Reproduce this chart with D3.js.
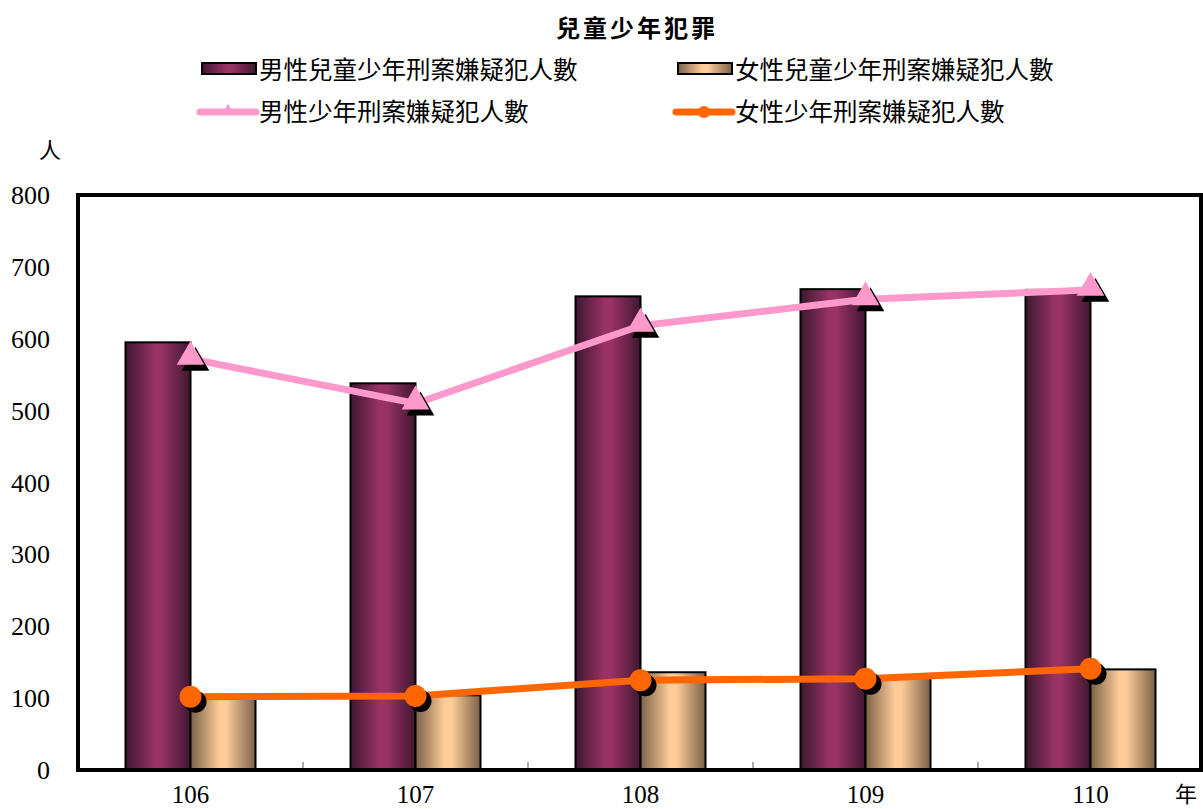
<!DOCTYPE html>
<html><head><meta charset="utf-8">
<script src="https://cdn.jsdelivr.net/npm/d3@7"></script>
<style>body{margin:0;background:#fff}svg{display:block}</style>
</head><body>
<svg id="c" width="1203" height="809"></svg>
<script>
const categories = ["106","107","108","109","110"];
const maleBars = [595, 538, 659, 669, 668];
const femaleBars = [99, 104, 136, 128, 140];
const maleLine = [572, 510, 618, 655, 668];
const femaleLine = [102, 103, 125, 127, 141];
const yTicks = [0,100,200,300,400,500,600,700,800];
const seriesNames = ["男性兒童少年刑案嫌疑犯人數","女性兒童少年刑案嫌疑犯人數","男性少年刑案嫌疑犯人數","女性少年刑案嫌疑犯人數"];

const svg = d3.select("#c");
const m = {l:78, r:1201, t:195, b:770};
const x = d3.scaleBand().domain(categories).range([m.l, m.r+2]);
const y = d3.scaleLinear().domain([0,800]).range([m.b, m.t]);
const serif = "'Liberation Serif','Times New Roman',serif";
const cjk = "'Noto Sans CJK TC','Noto Sans CJK SC',sans-serif";

const defs = svg.append("defs");
function grad(id, edge, mid){
  const g = defs.append("linearGradient").attr("id",id).attr("x1","0").attr("x2","1").attr("y1","0").attr("y2","0");
  g.append("stop").attr("offset","0%").attr("stop-color",edge);
  g.append("stop").attr("offset","45%").attr("stop-color",mid);
  g.append("stop").attr("offset","55%").attr("stop-color",mid);
  g.append("stop").attr("offset","100%").attr("stop-color",edge);
}
grad("gm","#3f1730","#993366");
grad("gf","#7a6148","#ffcc99");

// title
svg.append("text").attr("x",637).attr("y",37).attr("text-anchor","middle")
  .style("font-family",cjk).style("font-weight","bold").style("font-size","24px").style("letter-spacing","3px").text("兒童少年犯罪");

// legend
const leg = [
  {x:200,y:70,type:"bar",fill:"url(#gm)"},
  {x:676,y:70,type:"bar",fill:"url(#gf)"},
  {x:200,y:112,type:"line",color:"#ff99cc",marker:"tri"},
  {x:676,y:112,type:"line",color:"#ff6600",marker:"circ"}
];
leg.forEach((d,i)=>{
  const g = svg.append("g");
  if(d.type==="bar"){
    g.append("rect").attr("x",d.x+2).attr("y",d.y-7).attr("width",54).attr("height",11)
      .attr("fill",d.fill).attr("stroke","#000").attr("stroke-width",2);
  } else {
    g.append("line").attr("x1",d.x).attr("x2",d.x+56).attr("y1",d.y).attr("y2",d.y)
      .attr("stroke",d.color).attr("stroke-width",7).attr("stroke-linecap","round");
    if(d.marker==="tri") g.append("path").attr("d",d3.symbol(d3.symbolTriangle,70)()).attr("transform",`translate(${d.x+28},${d.y-1})`).attr("fill",d.color);
    else g.append("circle").attr("cx",d.x+28).attr("cy",d.y).attr("r",6).attr("fill",d.color);
  }
  g.append("text").attr("x",d.x+59).attr("y",d.y+9).style("font-family",cjk).style("font-size","24.5px").text(seriesNames[i]);
});

// units
svg.append("text").attr("x",50).attr("y",158).attr("text-anchor","middle").style("font-family",cjk).style("font-size","22px").text("人");
svg.append("text").attr("x",1186).attr("y",802).attr("text-anchor","middle").style("font-family",cjk).style("font-size","22px").text("年");

// y axis labels
yTicks.forEach(t=>{
  svg.append("text").attr("x",50).attr("y",y(t)+9).attr("text-anchor","end")
    .style("font-family",serif).style("font-size","26px").text(t);
});

// bars
const bw = 65;
const bars = svg.append("g");
categories.forEach((c,i)=>{
  const cx = x(c)+x.bandwidth()/2;
  bars.append("rect").attr("x",cx-bw).attr("y",y(maleBars[i])).attr("width",bw).attr("height",y(0)-y(maleBars[i]))
    .attr("fill","url(#gm)").attr("stroke","#000").attr("stroke-width",2);
  bars.append("rect").attr("x",cx).attr("y",y(femaleBars[i])).attr("width",bw).attr("height",y(0)-y(femaleBars[i]))
    .attr("fill","url(#gf)").attr("stroke","#000").attr("stroke-width",2);
});

// category ticks (at band boundaries)
categories.slice(1).forEach(c=>{
  svg.append("line").attr("x1",x(c)).attr("x2",x(c)).attr("y1",m.b).attr("y2",m.b-8).attr("stroke","#555").attr("stroke-width",1);
});

// lines
const cxf = (c)=>x(c)+x.bandwidth()/2;
const line = d3.line().x((d,i)=>cxf(categories[i])).y(d=>y(d));
svg.append("path").datum(maleLine).attr("d",line).attr("fill","none").attr("stroke","#ff99cc").attr("stroke-width",7).attr("stroke-linejoin","round");
svg.append("path").datum(femaleLine).attr("d",line).attr("fill","none").attr("stroke","#ff6600").attr("stroke-width",7).attr("stroke-linejoin","round");

const tri = d3.symbol(d3.symbolTriangle,330)();
maleLine.forEach((v,i)=>{
  const cx = cxf(categories[i]), cy=y(v);
  svg.append("path").attr("d",tri).attr("transform",`translate(${cx+5},${cy+4})`).attr("fill","#000");
  svg.append("path").attr("d",tri).attr("transform",`translate(${cx},${cy-2})`).attr("fill","#ff99cc");
});
femaleLine.forEach((v,i)=>{
  const cx = cxf(categories[i]), cy=y(v);
  svg.append("circle").attr("cx",cx+5).attr("cy",cy+5).attr("r",11).attr("fill","#000");
  svg.append("circle").attr("cx",cx).attr("cy",cy).attr("r",11).attr("fill","#ff6600");
});

// frame
svg.append("rect").attr("x",m.l).attr("y",m.t).attr("width",m.r-m.l).attr("height",m.b-m.t)
  .attr("fill","none").attr("stroke","#000").attr("stroke-width",4);

// x labels
categories.forEach(c=>{
  svg.append("text").attr("x",cxf(c)).attr("y",803).attr("text-anchor","middle")
    .style("font-family",serif).style("font-size","25px").text(c);
});
</script>
</body></html>
